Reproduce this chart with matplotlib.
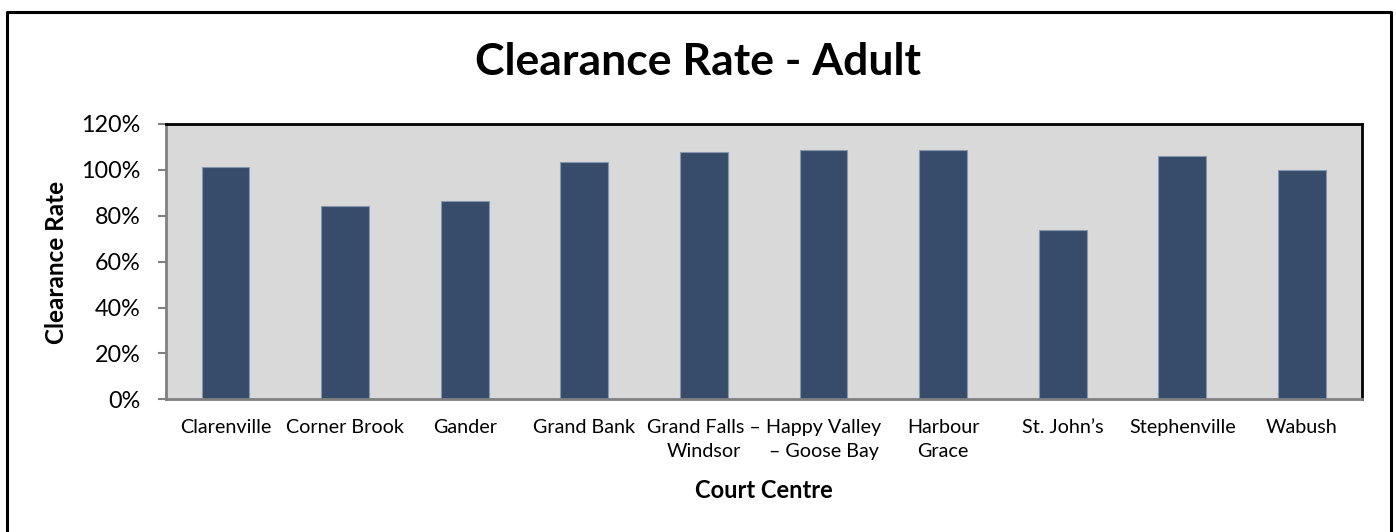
import matplotlib
matplotlib.use('Agg')
import matplotlib.pyplot as plt
from matplotlib.lines import Line2D
from matplotlib.ticker import PercentFormatter

centres = ['Clarenville', 'Corner Brook', 'Gander', 'Grand Bank',
           'Grand Falls \u2013\nWindsor', 'Happy Valley\n\u2013 Goose Bay',
           'Harbour\nGrace', 'St. John\u2019s', 'Stephenville', 'Wabush']
clearance = [1.011, 0.841, 0.864, 1.036, 1.079, 1.085, 1.088, 0.737, 1.062, 1.000]

plt.rcParams['font.family'] = ['Lato', 'DejaVu Sans']

W, H = 1396, 532
fig = plt.figure(figsize=(W / 100, H / 100), dpi=100)
ax = fig.add_axes([165.7 / W, 1 - 399.3 / H, (1361.7 - 165.7) / W, (399.3 - 124) / H])
ax.set_facecolor('#d9d9d9')

x = range(len(centres))
ax.bar(x, clearance, width=0.4, color='#374c6b', edgecolor='#8797ae', linewidth=0.8, zorder=2)

ax.set_xlim(-0.5, len(centres) - 0.5)
ax.set_ylim(0, 1.2)
ax.set_yticks([0, 0.2, 0.4, 0.6, 0.8, 1.0, 1.2])
ax.yaxis.set_major_formatter(PercentFormatter(1.0, decimals=0))
ax.set_xticks(list(x))
ax.set_xticklabels(centres, fontsize=14.2, linespacing=1.5)
ax.tick_params(axis='x', length=0, pad=14)
ax.tick_params(axis='y', length=6, width=1.5, color='#808080', labelsize=16.8, pad=12)

for side in ['top', 'right']:
    ax.spines[side].set_color('black')
    ax.spines[side].set_linewidth(2)
for side in ['left', 'bottom']:
    ax.spines[side].set_color('#808080')
    ax.spines[side].set_linewidth(2)

fig.text(0.5, 1 - 62 / H, 'Clearance Rate - Adult', ha='center', va='center',
         fontsize=32, fontweight='bold')
fig.text(56 / W, 1 - 262 / H, 'Clearance Rate', ha='center', va='center',
         rotation=90, fontsize=17.5, fontweight='bold')
fig.text(0.5 * (165.7 + 1361.7) / W, 1 - 491 / H, 'Court Centre', ha='center', va='center',
         fontsize=17, fontweight='bold')

# outer frame (left, top, right)
fx0, fx1, fy = 7.5 / W, 1390.5 / W, 1 - 12 / H
fig.add_artist(Line2D([fx0, fx0, fx1, fx1], [0, fy, fy, 0], color='black', linewidth=2.2,
                      transform=fig.transFigure))

fig.savefig('out.png', dpi=100)
